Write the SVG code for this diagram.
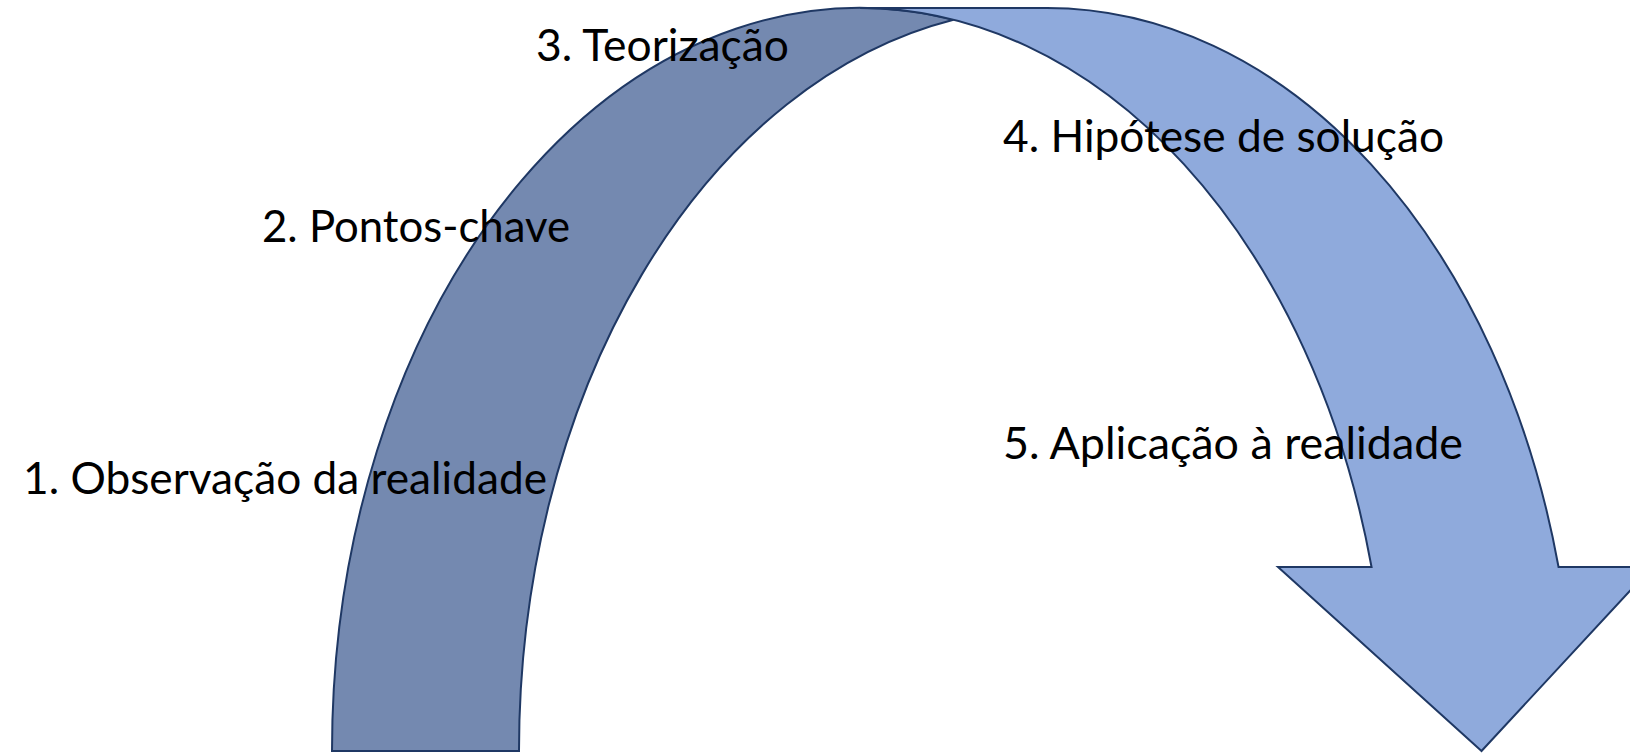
<svg xmlns="http://www.w3.org/2000/svg" width="1630" height="753" viewBox="0 0 1630 753">
<style>
.lbl{font-family:Lato,"Open Sans","Liberation Sans",sans-serif;font-size:44px;fill:#000}
.back{fill:#7489B0;stroke:#1F3864;stroke-width:2;stroke-linejoin:miter}
.front{fill:#8FAADC;stroke:#1F3864;stroke-width:2;stroke-linejoin:miter}
</style>
<rect width="1630" height="753" fill="#fff"/>
<g id="arrow">
<path class="back" d="M332 751 A528 743 0 0 1 953.5 19.7 A528 743 0 0 0 519 751 Z"/>
<path class="front" d="M1481.5 751 L1278 567 L1371.55 567 A528 743 0 0 0 860 8 L1047 8 A528 743 0 0 1 1558.55 567 L1652 567 Z"/>
</g>
<g id="labels">
<text id="t1" class="lbl" x="23" y="494" textLength="524" lengthAdjust="spacingAndGlyphs">1. Observação da realidade</text>
<text id="t2" class="lbl" x="262" y="242" textLength="308" lengthAdjust="spacingAndGlyphs">2. Pontos-chave</text>
<text id="t3" class="lbl" x="536" y="61" textLength="253" lengthAdjust="spacingAndGlyphs">3. Teorização</text>
<text id="t4" class="lbl" x="1003" y="152" textLength="441" lengthAdjust="spacingAndGlyphs">4. Hipótese de solução</text>
<text id="t5" class="lbl" x="1003" y="459" textLength="460" lengthAdjust="spacingAndGlyphs">5. Aplicação à realidade</text>
</g>
</svg>
